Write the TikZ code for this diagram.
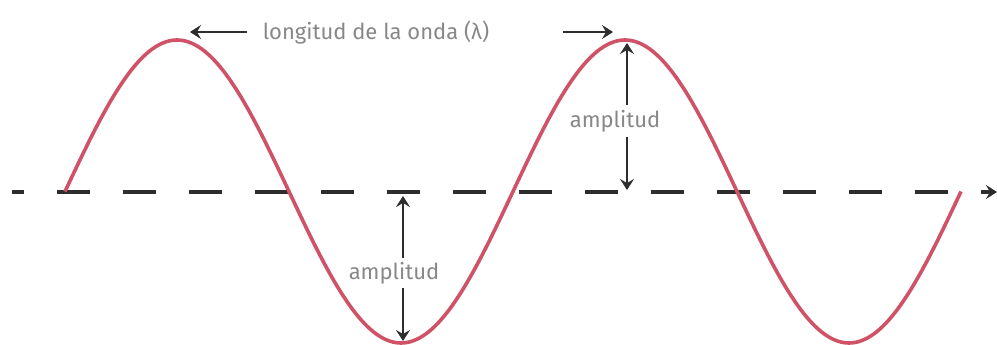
\documentclass[tikz,border=0pt]{standalone}
\usepackage{fontspec}
\setmainfont{Fira Sans}
\usetikzlibrary{arrows.meta, calc}
\definecolor{onda}{RGB}{208,82,102}
\definecolor{texto}{RGB}{135,135,135}
\definecolor{flecha}{RGB}{45,45,45}
\tikzset{
    curva/.style={draw=onda, line width=3.6pt},
    eje/.style={draw=flecha, line width=3.2pt, dash pattern=on 33pt off 33pt, dash phase=21pt},
    cota/.style={draw=flecha, line width=2.2pt},
    rotulo/.style={font=\fontsize{22}{24}\selectfont, text=texto, inner sep=0pt}
}

\begin{document}
\begin{tikzpicture}[x=1pt, y=-1pt, >={Stealth[length=11pt, width=14pt, inset=4pt]}]
    % Marco
    \useasboundingbox (0,0) rectangle (997,345);

    % Eje horizontal (discontinuo)
    \coordinate (inicio) at (12,192);
    \coordinate (fin) at (997,192);
    \draw[eje, ->] (inicio) -- (fin);

    % Onda
    \draw[curva] plot[domain=0:720, samples=181, smooth] ({65+\x*1.24444}, {191.5-151.5*sin(\x)});

    % Longitud de onda
    \node[rotulo] (lambda) at (376,33) {longitud de la onda (λ)};
    \coordinate (izq) at (190,32);
    \coordinate (der) at (613,32);
    \draw[cota, ->] ([xshift=-16pt]lambda.west |- izq) -- (izq);
    \draw[cota, ->] ([xshift=74pt]lambda.east |- der) -- (der);

    % Amplitud superior
    \coordinate (pico) at (627,43);
    \coordinate (eje1) at (627,190);
    \node[rotulo, minimum height=32pt] (amp1) at (615,121) {amplitud};
    \draw[cota, ->] (amp1.north -| pico) -- (pico);
    \draw[cota, ->] (amp1.south -| pico) -- (eje1);

    % Amplitud inferior
    \coordinate (eje2) at (403,196);
    \coordinate (valle) at (403,341);
    \node[rotulo, minimum height=30pt] (amp2) at (394,273) {amplitud};
    \draw[cota, ->] (amp2.north -| eje2) -- (eje2);
    \draw[cota, ->] (amp2.south -| valle) -- (valle);
\end{tikzpicture}
\end{document}
